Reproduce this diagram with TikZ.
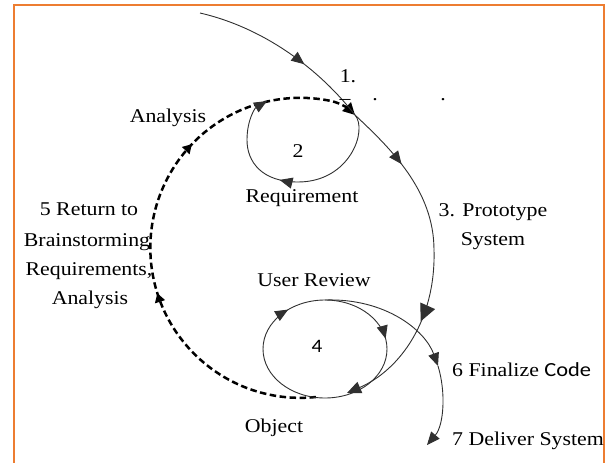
\documentclass[tikz,border=0pt]{standalone}
\usepackage{fontspec}
\setmainfont{Liberation Serif}[FakeStretch=1.12]
\newfontfamily\calibfont{Carlito}[FakeStretch=1.12]
\usetikzlibrary{arrows.meta,decorations.markings,calc}
\definecolor{frameorange}{HTML}{ED7D31}
\definecolor{linegray}{HTML}{303030}
\begin{document}
\begin{tikzpicture}[x=1pt,y=-1pt,
  lbl/.style={font=\fontsize{19.5}{22}\selectfont, inner sep=0pt, text=black},
  flow/.style={draw=linegray, line width=0.9pt},
  dashflow/.style={draw=black, line width=2.5pt, dash pattern=on 6.5pt off 3.5pt},
  midarrow/.style n args={3}{postaction={decorate,decoration={markings,
      mark=at position #1 with {\arrow{Triangle[length=#2,width=#3]}}}}},
  endtip/.style={-{Triangle[length=13pt,width=11pt]}}
]
\useasboundingbox (0,0) rectangle (608,463);
% frame
\draw[frameorange, line width=2.6pt] (14,463) -- (14,5) -- (604,5) -- (604,463);

% key points
\coordinate (start) at (200,13);
\coordinate (J) at (355,115);
\coordinate (P3) at (434,250);
\coordinate (O) at (347,393);
\coordinate (D0) at (316,397);
\coordinate (B2) at (298,182);
\coordinate (L2) at (247,140);
\coordinate (T2) at (267,101);
\coordinate (B4) at (325,398);
\coordinate (T4) at (325,300);
\coordinate (F6) at (438,366);
\coordinate (E7) at (427,445);

% dashed return path
\draw[dashflow, -{Triangle[length=12pt,width=12pt]},
  postaction={decorate,decoration={markings,
    mark=at position 0.376 with {\arrow{Triangle[length=9pt,width=10pt]}},
    mark=at position 0.67 with {\arrow{Triangle[length=9pt,width=10pt]}}}}]
  (D0) arc[start angle=84, end angle=282, radius=150]
  .. controls (342,103.5) and (350,110) .. (J);

% loop 2
\draw[flow] (J) .. controls (368,130) and (350,182) .. (B2);
\draw[flow, midarrow={0.25}{13pt}{11pt}] (B2) .. controls (262,182) and (247,162) .. (L2);
\draw[flow, endtip] (L2) .. controls (247,120) and (255,108) .. (T2);

% main spiral
\draw[flow, midarrow={0.62}{13pt}{11pt}] (start) .. controls (265,28) and (320,70) .. (J);
\draw[flow, midarrow={0.42}{13pt}{11pt}] (J) .. controls (390,148) and (434,190) .. (P3);
\draw[flow, midarrow={0.41}{17pt}{16pt}, -{Triangle[length=14pt,width=12pt]}]
  (P3) .. controls (436,320) and (400,370) .. (O);

% loop 4
\draw[flow, postaction={decorate,decoration={markings,
    mark=at position 0.39 with {\arrow{Triangle[length=13pt,width=11pt]}},
    mark=at position 0.72 with {\arrow{Triangle[length=13pt,width=11pt]}}}}]
  (B4) arc[start angle=90, end angle=450, x radius=62, y radius=49];

% outer branch to finalize / deliver
\draw[flow, endtip] (T4) .. controls (385,298) and (425,330) .. (F6);
\draw[flow, endtip] (F6) .. controls (446,392) and (444,425) .. (E7);

% labels
\node[lbl, anchor=base] (n1) at (348,82) {1.};
\node[lbl, anchor=base] (dash1) at (345,104) {–};
\node[lbl, anchor=base] (dot1) at (375,100) {.};
\node[lbl, anchor=base] (dot2) at (443,100) {.};
\node[lbl, anchor=base] (an1) at (168,122) {Analysis};
\node[lbl, anchor=base] (n2) at (298,157) {2};
\node[lbl, anchor=base] (req) at (302,202) {Requirement};
\node[lbl, anchor=base] (p3a) at (493,216) {3. Prototype};
\node[lbl, anchor=base] (p3b) at (493,245) {System};
\node[lbl, anchor=base] (r5a) at (89,215) {5 Return to};
\node[lbl, anchor=base] (r5b) at (87,246) {Brainstorming};
\node[lbl, anchor=base] (r5c) at (89,275) {Requirements,};
\node[lbl, anchor=base] (r5d) at (90,304) {Analysis};
\node[lbl, anchor=base] (ur) at (314,286) {User Review};
\node[lbl, anchor=base, font=\calibfont\fontsize{19}{22}\selectfont] (n4) at (317,352) {4};
\node[lbl, anchor=base west] (fc) at (452,376) {6 Finalize {\calibfont\fontsize{20}{22}\selectfont Code}};
\node[lbl, anchor=base] (obj) at (274,432) {Object};
\node[lbl, anchor=base west] (ds) at (452,445) {7 Deliver System};
\end{tikzpicture}
\end{document}
